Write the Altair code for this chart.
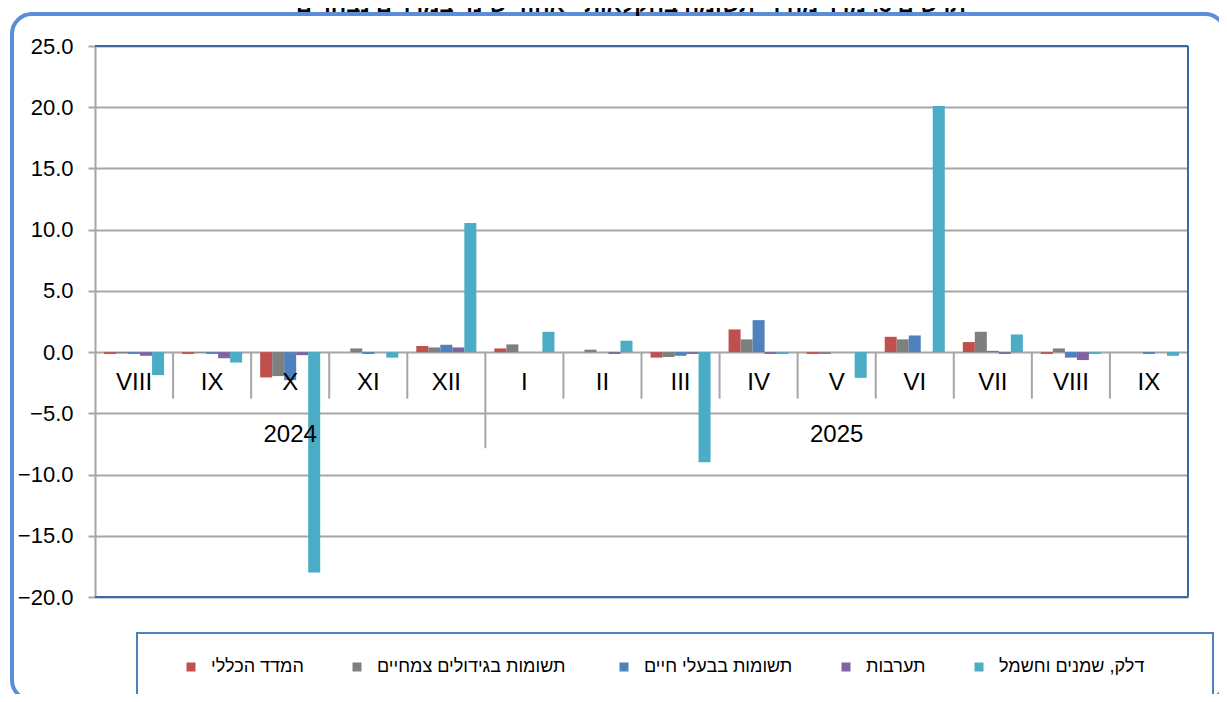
import altair as alt
import pandas as pd

# ---------------- data ----------------
keys = ["2024-VIII", "2024-IX", "2024-X", "2024-XI", "2024-XII",
        "2025-I", "2025-II", "2025-III", "2025-IV", "2025-V",
        "2025-VI", "2025-VII", "2025-VIII", "2025-IX"]
month_labels = ["VIII", "IX", "X", "XI", "XII", "I", "II", "III", "IV", "V",
                "VI", "VII", "VIII", "IX"]
years = ["2024", "2025"]
year_center_keys = ["2024-X", "2025-V"]

series_names = ["המדד הכללי", "תשומות בגידולים  צמחיים", "תשומות בבעלי חיים",
                "תערבות", "דלק, שמנים וחשמל"]
series_colors = ["#C0504D", "#7F7F7F", "#4F81BD", "#8064A2", "#4BACC6"]

general = [-0.15, -0.15, -2.07, 0.0, 0.5, 0.3, 0.0, -0.45, 1.85, -0.15, 1.25, 0.82, -0.15, 0.0]
plants = [-0.1, -0.05, -1.96, 0.3, 0.38, 0.63, 0.2, -0.4, 1.04, -0.15, 1.04, 1.66, 0.3, 0.0]
animals = [-0.15, -0.15, -2.29, -0.15, 0.6, 0.0, 0.0, -0.3, 2.61, 0.0, 1.36, 0.1, -0.45, -0.15]
recreation = [-0.3, -0.5, -0.25, 0.0, 0.38, 0.0, -0.15, -0.15, -0.15, 0.0, 0.0, -0.15, -0.65, 0.0]
fuel = [-1.88, -0.85, -18.0, -0.45, 10.55, 1.66, 0.93, -9.0, -0.15, -2.1, 20.1, 1.44, -0.15, -0.3]

y_ticks = [-20, -15, -10, -5, 0, 5, 10, 15, 20, 25]
title_text = "תרשים 3: מדד מחירי תשומה בחקלאות - אחוזי שינוי במדדים נבחרים"

# ---------------- tables ----------------
rows = []
for name, vals in zip(series_names, [general, plants, animals, recreation, fuel]):
    for k, v in zip(keys, vals):
        rows.append({"key": k, "series": name, "value": v})
bars_df = pd.DataFrame(rows)
labels_df = pd.DataFrame({"key": keys, "label": month_labels, "ypos": [-2.53] * len(keys)})
years_df = pd.DataFrame({"key": year_center_keys, "label": years, "ypos": [-6.8, -6.8]})
sep_df = pd.DataFrame({"key": keys[1:], "top": [0.0] * (len(keys) - 1),
                       "bottom": [-7.85 if k == "2025-I" else -3.8 for k in keys[1:]]})
end_df = pd.DataFrame({"key": [keys[-1]], "top": [0.0], "bottom": [-7.85]})
hframe_df = pd.DataFrame({"yv": [25.0, -20.0]})
vframe_df = pd.DataFrame({"top": [25.0], "bottom": [-20.0]})
one = pd.DataFrame({"a": [0]})

W, H = 1093, 551
FONT = "Liberation Sans"
GRID = "#A6A6A6"
FRAME = "#3F67A6"

x_scale = alt.Scale(domain=keys, paddingInner=0, paddingOuter=0)
y_scale = alt.Scale(domain=[-20, 25], nice=False, zero=False)

# decorations
outer = alt.Chart(one).mark_rect(filled=False, stroke="#5B8ED6", strokeWidth=4,
                                 cornerRadius=20).encode(
    x=alt.value(-83), x2=alt.value(1130), y=alt.value(-32), y2=alt.value(654))
legend_box = alt.Chart(one).mark_rect(filled=False, stroke="#4F81BD", strokeWidth=2).encode(
    x=alt.value(42), x2=alt.value(1118), y=alt.value(587), y2=alt.value(664))
title = alt.Chart(one).mark_text(text=title_text, font=FONT, fontSize=22, fontWeight="bold",
                                 align="center", baseline="alphabetic", color="#000000").encode(
    x=alt.value(536), y=alt.value(-34))

bars = alt.Chart(bars_df).mark_bar().encode(
    x=alt.X("key:N", scale=x_scale, sort=keys, axis=None),
    xOffset=alt.XOffset("series:N", sort=series_names,
                        scale=alt.Scale(domain=series_names, paddingInner=0, paddingOuter=0.75)),
    y=alt.Y("value:Q", scale=y_scale, title=None,
            axis=alt.Axis(values=y_ticks, format=".1f", grid=True, gridColor=GRID, gridWidth=2,
                          domainColor=GRID, domainWidth=2, tickColor=GRID, tickWidth=2, tickSize=7,
                          labelFont=FONT, labelFontSize=22, labelColor="#000000",
                          labelPadding=15)),
    color=alt.Color("series:N", sort=series_names,
                    scale=alt.Scale(domain=series_names, range=series_colors),
                    legend=alt.Legend(orient="none", legendX=87, legendY=612,
                                      direction="horizontal", title=None,
                                      symbolType="square", symbolSize=81,
                                      symbolStrokeWidth=0, labelFont=FONT,
                                      labelFontSize=18, labelColor="#000000",
                                      labelLimit=500,
                                      columnPadding=44, labelOffset=11)),
)

frame_h = alt.Chart(hframe_df).mark_rule(color=FRAME, strokeWidth=2).encode(
    x=alt.value(0), x2=alt.value(W), y=alt.Y("yv:Q"))
frame_right = alt.Chart(vframe_df).mark_rule(color=FRAME, strokeWidth=2).encode(
    x=alt.value(W), y=alt.Y("top:Q"), y2="bottom:Q")

seps = alt.Chart(sep_df).mark_rule(color=GRID, strokeWidth=2).encode(
    x=alt.X("key:N", sort=keys, bandPosition=0),
    y=alt.Y("top:Q"), y2="bottom:Q")
end_sep = alt.Chart(end_df).mark_rule(color=GRID, strokeWidth=2).encode(
    x=alt.X("key:N", sort=keys, bandPosition=1),
    y=alt.Y("top:Q"), y2="bottom:Q")

cat_labels = alt.Chart(labels_df).mark_text(font=FONT, fontSize=24, color="#000000",
                                            baseline="middle", align="center").encode(
    x=alt.X("key:N", sort=keys), y=alt.Y("ypos:Q"), text="label:N")
year_labels = alt.Chart(years_df).mark_text(font=FONT, fontSize=24, color="#000000",
                                            baseline="middle", align="center").encode(
    x=alt.X("key:N", sort=keys), y=alt.Y("ypos:Q"), text="label:N")

chart = alt.layer(
    outer, legend_box, title, bars, seps, end_sep, frame_h, frame_right,
    cat_labels, year_labels
).properties(
    width=W, height=H,
    autosize=alt.AutoSizeParams(type="none"),
    padding={"left": 87, "top": 38, "right": 31, "bottom": 97},
    background="#FFFFFF",
).configure_view(strokeWidth=0)

chart.save("out.html", embed_options={"renderer": "svg", "actions": False})
